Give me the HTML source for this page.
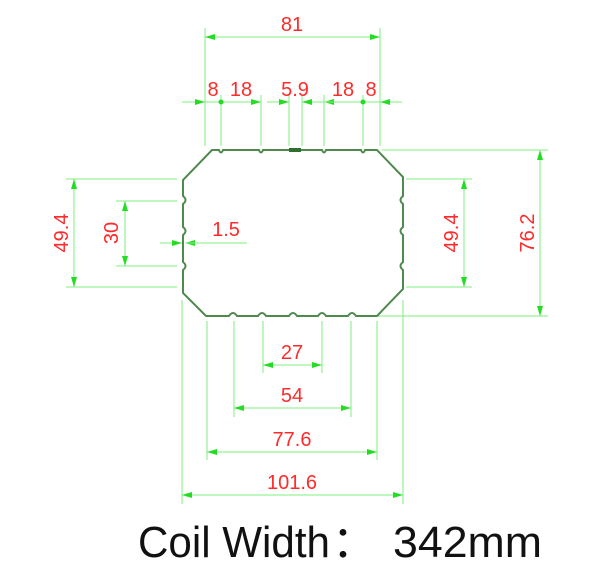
<!DOCTYPE html>
<html><head><meta charset="utf-8"><style>
html,body{margin:0;padding:0;background:#fff;width:600px;height:582px;overflow:hidden}
svg{display:block}
.d{stroke:#7ef07e;stroke-width:1;fill:none}
.t{fill:#ff2a2a;font-family:"Liberation Sans",sans-serif;font-size:20px}
</style></head><body>
<svg width="600" height="582" viewBox="0 0 600 582">
<defs>
<marker id="a" viewBox="0 0 10 6" refX="10" refY="3" markerWidth="10" markerHeight="6" orient="auto-start-reverse" markerUnits="userSpaceOnUse"><path d="M0,0L10,3L0,6z" fill="#22dd22"/></marker>
</defs>
<g class="d">
<line x1="205" y1="28" x2="205" y2="146"/><line x1="380" y1="28" x2="380" y2="146"/>
<line x1="221" y1="95" x2="221" y2="146"/><line x1="261" y1="95" x2="261" y2="146"/>
<line x1="289" y1="95" x2="289" y2="146"/><line x1="302" y1="95" x2="302" y2="146"/>
<line x1="324" y1="95" x2="324" y2="146"/><line x1="363" y1="95" x2="363" y2="146"/>
<line x1="382" y1="150" x2="548" y2="150"/><line x1="378" y1="316" x2="548" y2="316"/>
<line x1="406" y1="179" x2="472" y2="179"/><line x1="406" y1="287" x2="472" y2="287"/>
<line x1="66" y1="179" x2="177" y2="179"/><line x1="66" y1="287" x2="177" y2="287"/>
<line x1="116" y1="201" x2="177" y2="201"/><line x1="116" y1="266" x2="177" y2="266"/>
<line x1="182" y1="300" x2="182" y2="504"/><line x1="403" y1="300" x2="403" y2="504"/>
<line x1="207" y1="321" x2="207" y2="460"/><line x1="377" y1="321" x2="377" y2="460"/>
<line x1="234" y1="321" x2="234" y2="417"/><line x1="351" y1="321" x2="351" y2="417"/>
<line x1="263" y1="321" x2="263" y2="373"/><line x1="322" y1="321" x2="322" y2="373"/>
</g>
<g class="d">
<line x1="205" y1="37" x2="380" y2="37" marker-start="url(#a)" marker-end="url(#a)"/>
<line x1="182" y1="102" x2="205" y2="102" marker-end="url(#a)"/>
<line x1="205" y1="102" x2="261" y2="102"/>
<line x1="240" y1="102" x2="261" y2="102" marker-end="url(#a)"/>
<line x1="267" y1="102" x2="289" y2="102" marker-end="url(#a)"/>
<line x1="302" y1="102" x2="324" y2="102"/>
<line x1="322" y1="102" x2="302" y2="102" marker-end="url(#a)"/>
<line x1="345" y1="102" x2="324" y2="102" marker-end="url(#a)"/>
<line x1="324" y1="102" x2="402" y2="102"/>
<line x1="402" y1="102" x2="380" y2="102" marker-end="url(#a)"/>
<line x1="74" y1="179" x2="74" y2="287" marker-start="url(#a)" marker-end="url(#a)"/>
<line x1="125" y1="201" x2="125" y2="266" marker-start="url(#a)" marker-end="url(#a)"/>
<line x1="160" y1="243" x2="182" y2="243" marker-end="url(#a)"/>
<line x1="206" y1="243" x2="185" y2="243" marker-end="url(#a)"/>
<line x1="185" y1="243" x2="247" y2="243"/>
<line x1="464" y1="179" x2="464" y2="287" marker-start="url(#a)" marker-end="url(#a)"/>
<line x1="540" y1="150" x2="540" y2="316" marker-start="url(#a)" marker-end="url(#a)"/>
<line x1="263" y1="365" x2="322" y2="365" marker-start="url(#a)" marker-end="url(#a)"/>
<line x1="234" y1="408" x2="351" y2="408" marker-start="url(#a)" marker-end="url(#a)"/>
<line x1="207" y1="452" x2="377" y2="452" marker-start="url(#a)" marker-end="url(#a)"/>
<line x1="182" y1="495" x2="403" y2="495" marker-start="url(#a)" marker-end="url(#a)"/>
</g>
<circle cx="221" cy="102" r="2.5" fill="#22dd22"/><circle cx="363" cy="102" r="2.5" fill="#22dd22"/>
<path d="M212,150 L219,150 Q221,155 223,150 L259,150 Q261,155 263,150 L289,150 L302,150 L322,150 Q324,155 326,150 L361,150 Q363,155 365,150 L377,150 L403,177
L403,196 Q398,200 403,204 L403,227 Q398,231 403,235 L403,262 Q398,266 403,270 L403,289 L377,316
L356,316 Q352,310 348,316 L326,316 Q322,310 318,316 L297,316 Q293,310 289,316 L266,316 Q262,310 258,316 L237,316 Q233,310 229,316 L206,316 L183,293
L183,270 Q188,266 183,262 L183,235 Q188,231 183,227 L183,204 Q188,200 183,196 L183,180 Z"
fill="none" stroke="#4e8a4e" stroke-width="2"/>
<rect x="289" y="148" width="12" height="4" fill="#2f6f2f"/>
<text class="t" x="292" y="31" text-anchor="middle">81</text>
<text class="t" x="213" y="96" text-anchor="middle">8</text>
<text class="t" x="241" y="96" text-anchor="middle">18</text>
<text class="t" x="295" y="96" text-anchor="middle">5.9</text>
<text class="t" x="343" y="96" text-anchor="middle">18</text>
<text class="t" x="371" y="96" text-anchor="middle">8</text>
<text class="t" x="226" y="236" text-anchor="middle">1.5</text>
<text class="t" transform="translate(68,233) rotate(-90)" text-anchor="middle">49.4</text>
<text class="t" transform="translate(118,233) rotate(-90)" text-anchor="middle">30</text>
<text class="t" transform="translate(458,233) rotate(-90)" text-anchor="middle">49.4</text>
<text class="t" transform="translate(534,233) rotate(-90)" text-anchor="middle">76.2</text>
<text class="t" x="292" y="359" text-anchor="middle">27</text>
<text class="t" x="292" y="402" text-anchor="middle">54</text>
<text class="t" x="292" y="446" text-anchor="middle">77.6</text>
<text class="t" x="292" y="489" text-anchor="middle">101.6</text>
<g font-family="'Liberation Sans','Noto Sans CJK SC',sans-serif" font-size="44" fill="#111">
<text x="138" y="557" textLength="192" lengthAdjust="spacingAndGlyphs">Coil Width</text>
<text x="332" y="557">：</text>
<text x="393" y="557" textLength="149" lengthAdjust="spacingAndGlyphs">342mm</text>
</g>
</svg>
</body></html>
